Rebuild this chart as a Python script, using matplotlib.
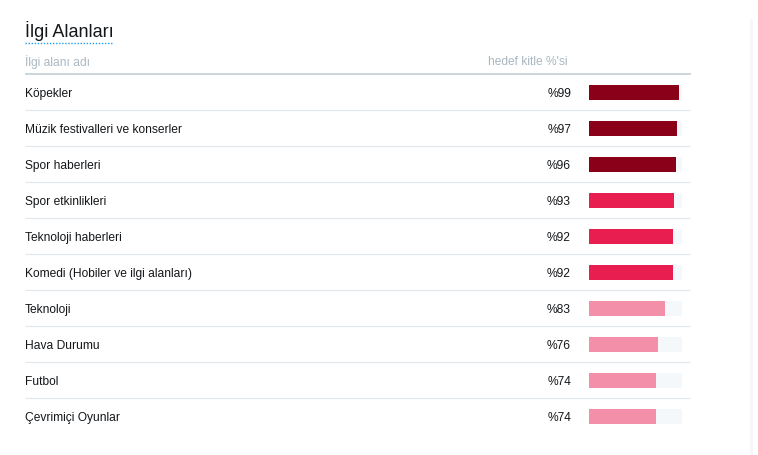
import matplotlib
matplotlib.use("Agg")
import matplotlib.pyplot as plt
from matplotlib.patches import Rectangle

plt.rcParams['font.family'] = ['Liberation Sans', 'DejaVu Sans']

# data
title = "İlgi Alanları"
colHeaders = ["İlgi alanı adı", "hedef kitle %'si"]
interests = ["Köpekler", "Müzik festivalleri ve konserler", "Spor haberleri",
             "Spor etkinlikleri", "Teknoloji haberleri",
             "Komedi (Hobiler ve ilgi alanları)", "Teknoloji", "Hava Durumu",
             "Futbol", "Çevrimiçi Oyunlar"]
shares = [99, 97, 96, 93, 92, 92, 83, 76, 74, 74]

W, H = 758, 455
rowTop, rowH = 74, 36
textCol = "#14171a"
grayCol = "#aab8c2"


def barColor(v):
    if v >= 95: return "#8b0019"
    if v >= 90: return "#e81d50"
    return "#f48faa"


fig = plt.figure(figsize=(W / 100, H / 100), dpi=100)

# overlay in pixel coordinates for the table layout
bg = fig.add_axes([0, 0, 1, 1])
bg.set_xlim(0, W); bg.set_ylim(H, 0); bg.axis('off')

bg.text(25, 37, title, fontsize=12.96, color=textCol, va='baseline', ha='left')
bg.plot([25, 113], [42.5, 42.5], color="#1da1f2", lw=1.0, ls=(0, (1, 1.2)))
bg.text(25, 62, colHeaders[0], fontsize=8.64, color=grayCol, va='center')
bg.text(567, 62, colHeaders[1], fontsize=8.64, color=grayCol, va='center', ha='right')
bg.plot([25, 691], [73.5, 73.5], color="#ccd6dd", lw=1.44, solid_capstyle='butt')
bg.add_patch(Rectangle((750, 19), 3, H - 19, color="#f5f8fa", lw=0))

for i, (name, v) in enumerate(zip(interests, shares)):
    yc = rowTop + rowH * i + rowH / 2 + 2
    bg.text(25, yc, name, fontsize=8.64, color=textCol, va='center', ha='left')
    bg.text(571, yc, f"%{v}", fontsize=8.64, color=textCol, va='center', ha='right')
    if i < len(interests) - 1:
        ySep = rowTop + rowH * (i + 1)
        bg.plot([25, 690], [ySep, ySep], color="#e1e8ed", lw=0.8, solid_capstyle='butt')

# bar axes: 100% ~ 91 px, track ~ 93 px
barLeft, barW = 589, 93
ax = fig.add_axes([barLeft / W, 1 - (rowTop + rowH * len(shares)) / H,
                   barW / W, rowH * len(shares) / H])
trackMax = 100 * barW / 91
ypos = list(range(len(shares)))
ax.barh(ypos, [trackMax] * len(shares), height=15 / rowH, color="#f5f8fa", lw=0)
ax.barh(ypos, shares, height=15 / rowH, color=[barColor(v) for v in shares], lw=0)
ax.set_xlim(0, trackMax)
ax.set_ylim(len(shares) - 0.5, -0.5)
ax.axis('off')

fig.savefig("out.png", dpi=100)
